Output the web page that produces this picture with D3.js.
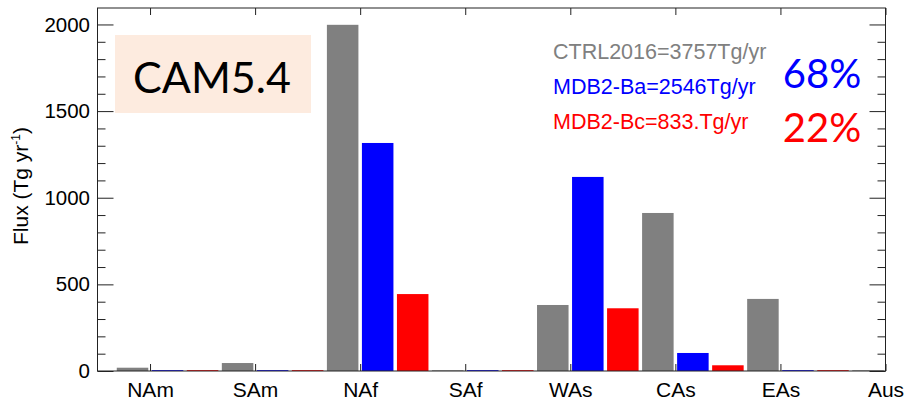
<!DOCTYPE html>
<html>
<head>
<meta charset="utf-8">
<script src="https://cdn.jsdelivr.net/npm/d3@7"></script>
<style>
  html, body { margin: 0; padding: 0; background: #fff; }
  svg { display: block; }
</style>
</head>
<body>
<svg id="chart" width="904" height="401"></svg>
<script>
// Regional dust emission flux (Tg/yr) for three experiments
const regions = ["NAm", "SAm", "NAf", "SAf", "WAs", "CAs", "EAs", "Aus"];
const ctrl2016 = [19, 46, 1998, 4, 381, 912, 416, 4];
const mdb2Ba   = [5, 5, 1316, 5, 1120, 104, 5, 5];
const mdb2Bc   = [5, 5, 444, 5, 362, 33, 5, 5];
const yTicks   = [0, 500, 1000, 1500, 2000];

const seriesNames  = ["CTRL2016", "MDB2-Ba", "MDB2-Bc"];
const seriesTotals = ["3757Tg/yr", "2546Tg/yr", "833.Tg/yr"];
const seriesColors = ["#808080", "#0000ff", "#ff0000"];
const percents     = ["68%", "22%"];

const series = [ctrl2016, mdb2Ba, mdb2Bc];

const svg = d3.select("#chart");
const plotL = 97.5, plotR = 885.5, plotT = 8, plotB = 371;

const x = d3.scaleLinear().domain([-0.5, 7]).range([plotL, plotR]);
const y = d3.scaleLinear().domain([0, 2095]).range([plotB, plotT]);

// clip bars to the plot frame
svg.append("clipPath").attr("id", "plotClip")
  .append("rect").attr("x", plotL).attr("y", plotT)
  .attr("width", plotR - plotL).attr("height", plotB - plotT);

// model label box
svg.append("rect")
  .attr("x", 115).attr("y", 35).attr("width", 196).attr("height", 78)
  .attr("fill", "#fdebdf");
svg.append("text")
  .attr("x", 212).attr("y", 92.5)
  .attr("text-anchor", "middle")
  .attr("font-family", "Lato, 'Open Sans', sans-serif")
  .attr("font-size", 43)
  .attr("fill", "#000")
  .text("CAM5.4");

// bars: three per region, offset within the region slot
const barW = 0.3;
const offsets = [-1/6, 1/6, 1/2];
const barsG = svg.append("g").attr("clip-path", "url(#plotClip)");
series.forEach((vals, s) => {
  barsG.selectAll(null)
    .data(vals)
    .enter().append("rect")
    .attr("x", (d, i) => x(i + offsets[s] - barW / 2))
    .attr("width", x(barW) - x(0))
    .attr("y", d => y(d))
    .attr("height", d => y(0) - y(d))
    .attr("fill", seriesColors[s]);
});

// frame
const axisColor = "#222";
svg.append("rect")
  .attr("x", plotL).attr("y", plotT)
  .attr("width", plotR - plotL).attr("height", plotB - plotT)
  .attr("fill", "none").attr("stroke", axisColor).attr("stroke-width", 1);

// left / right y axes (major + minor ticks)
const fontMain = "'Liberation Sans', Arial, Helvetica, sans-serif";
const yLeft = d3.axisLeft(y).tickValues(yTicks).tickSize(-16).tickPadding(7.5)
  .tickFormat(d3.format("d"));
const gL = svg.append("g").attr("transform", `translate(${plotL},0)`).call(yLeft);
gL.select(".domain").remove();
gL.selectAll("line").attr("stroke", axisColor);
gL.selectAll("text")
  .attr("font-family", fontMain).attr("font-size", 20.5).attr("fill", "#000");

const minor = d3.range(0, 2001, 100).filter(v => v % 500 !== 0);
const gLm = svg.append("g").attr("transform", `translate(${plotL},0)`)
  .call(d3.axisLeft(y).tickValues(minor).tickSize(-8).tickFormat(""));
gLm.select(".domain").remove();
gLm.selectAll("line").attr("stroke", axisColor);

const gR = svg.append("g").attr("transform", `translate(${plotR},0)`)
  .call(d3.axisRight(y).tickValues(yTicks).tickSize(-16).tickFormat(""));
gR.select(".domain").remove();
gR.selectAll("line").attr("stroke", axisColor);
const gRm = svg.append("g").attr("transform", `translate(${plotR},0)`)
  .call(d3.axisRight(y).tickValues(minor).tickSize(-8).tickFormat(""));
gRm.select(".domain").remove();
gRm.selectAll("line").attr("stroke", axisColor);

// bottom / top x axes
const idx = d3.range(regions.length);
const gB = svg.append("g").attr("transform", `translate(0,${plotB})`)
  .call(d3.axisBottom(x).tickValues(idx).tickSize(-7).tickPadding(11.5)
    .tickFormat(i => regions[i]));
gB.select(".domain").remove();
gB.selectAll("line").attr("stroke", axisColor);
gB.selectAll("text")
  .attr("font-family", fontMain).attr("font-size", 21).attr("fill", "#000");

const gT = svg.append("g").attr("transform", `translate(0,${plotT})`)
  .call(d3.axisTop(x).tickValues(idx).tickSize(-7).tickFormat(""));
gT.select(".domain").remove();
gT.selectAll("line").attr("stroke", axisColor);

// y-axis title
const yt = svg.append("text")
  .attr("transform", "translate(28,186) rotate(-90)")
  .attr("text-anchor", "middle")
  .attr("font-family", fontMain).attr("font-size", 21).attr("fill", "#000");
yt.append("tspan").text("Flux (Tg yr");
yt.append("tspan").attr("font-size", 12).attr("dy", -8).text("-1");
yt.append("tspan").attr("dy", 8).text(")");

// legend with totals
const legY = [59, 94, 129];
seriesNames.forEach((n, s) => {
  svg.append("text")
    .attr("x", 553).attr("y", legY[s])
    .attr("font-family", fontMain).attr("font-size", 21.5)
    .attr("fill", seriesColors[s])
    .text(`${n}=${seriesTotals[s]}`);
});

// fractions relative to control
const pctY = [88, 142];
percents.forEach((p, k) => {
  svg.append("text")
    .attr("x", 822).attr("y", pctY[k])
    .attr("text-anchor", "middle")
    .attr("font-family", "Lato, 'Open Sans', sans-serif")
    .attr("font-size", 40)
    .attr("fill", seriesColors[k + 1])
    .text(p);
});
</script>
</body>
</html>
